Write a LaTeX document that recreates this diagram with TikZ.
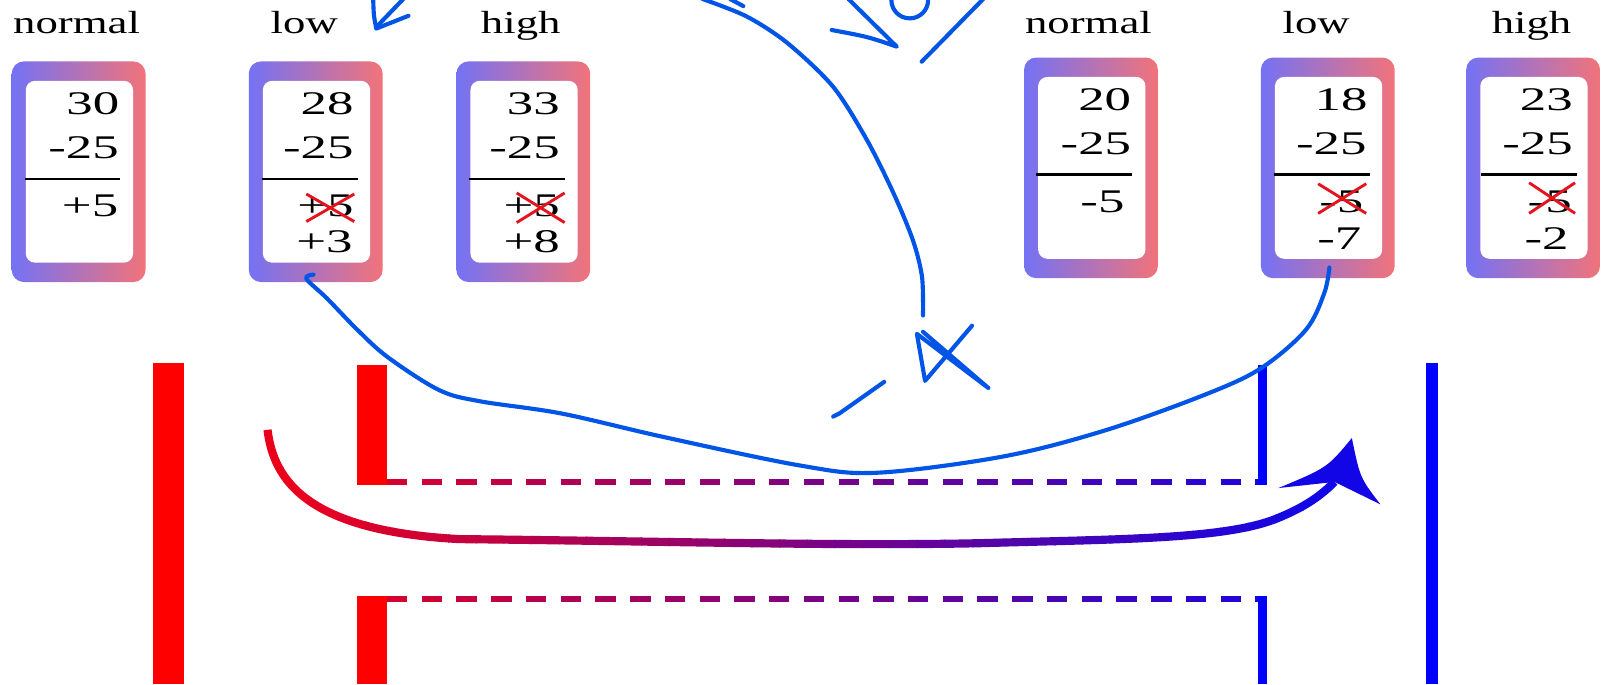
\documentclass[tikz,border=0pt]{standalone}
\usepackage{fontspec}
\setmainfont{Liberation Serif}
\newfontfamily\tagfont{Liberation Serif}[FakeStretch=1.4]
\newfontfamily\numfont{Liberation Serif}[FakeStretch=1.6]

\definecolor{cardblue}{RGB}{116,114,244}
\definecolor{cardred}{RGB}{241,115,122}
\definecolor{flowred}{RGB}{235,0,28}
\definecolor{flowblue}{RGB}{18,6,230}
\definecolor{crossred}{RGB}{228,20,30}
\definecolor{inkblue}{RGB}{0,84,230}

\tikzset{
    card/.style={rectangle, minimum width=1.31cm, minimum height=2.16cm, rounded corners=0.12cm, left color=cardblue, right color=cardred},
    face/.style={rectangle, fill=white, minimum width=1.05cm, minimum height=1.78cm, rounded corners=0.09cm},
    tag/.style={anchor=base, inner sep=0pt, font=\tagfont\fontsize{8.9}{10}\selectfont},
    num/.style={anchor=east, inner sep=0pt, font=\numfont\fontsize{9.2}{10}\selectfont},
    sumline/.style={line width=0.7pt},
    cross/.style={crossred, line width=0.8pt},
    wall/.style={line width=0.065cm, dash pattern=on 0.2cm off 0.14cm},
    flow/.style={line width=0.08cm},
    inkpen/.style={draw=inkblue, line width=1.15pt, line cap=round, line join=round}
}

\begin{document}
\begin{tikzpicture}[x=0.01cm, y=-0.01cm]
    \useasboundingbox (0,0) rectangle (1568,670);
    \fill[white] (0,0) rectangle (1568,670);

    % Cards, left group
    \node[card] (lnormal) at (77,168.2) {};
    \node[face] (lnormalin) at (77.8,168.2) {};
    \node[card] (llow) at (309.2,168.2) {};
    \node[face] (llowin) at (310,168.2) {};
    \node[card] (lhigh) at (512.5,168.2) {};
    \node[face] (lhighin) at (513.3,168.2) {};

    % Cards, right group
    \node[card] (rnormal) at (1068.5,164.4) {};
    \node[face] (rnormalin) at (1069.3,164.4) {};
    \node[card] (rlow) at (1300.4,164.4) {};
    \node[face] (rlowin) at (1301.2,164.4) {};
    \node[card] (rhigh) at (1501.5,164.4) {};
    \node[face] (rhighin) at (1502.3,164.4) {};

    % Labels
    \node[tag] (lnormaltag) at (75,32.7) {normal};
    \node[tag] (llowtag) at (298,32.7) {low};
    \node[tag] (lhightag) at (510,32.7) {high};
    \node[tag] (rnormaltag) at (1066,32.7) {normal};
    \node[tag] (rlowtag) at (1289,32.7) {low};
    \node[tag] (rhightag) at (1500,32.7) {high};

    % Sums, left group
    \node[num] (lnormal1) at (117.5,102) {30};
    \node[num] (lnormal2) at (117,144.5) {-25};
    \draw[sumline] (24.4,175.3) -- (117.5,175.3);
    \node[num] (lnormal3) at (116.5,201.5) {+5};

    \node[num] (llow1) at (347,102) {28};
    \node[num] (llow2) at (347,144.5) {-25};
    \draw[sumline] (256.8,175.3) -- (350.5,175.3);
    \node[num] (llow3) at (347,201.5) {+5};
    \draw[cross] (300,190) -- (347,217) (300,217) -- (347,190);
    \node[num] (llow4) at (346,236.8) {+3};

    \node[num] (lhigh1) at (549,102) {33};
    \node[num] (lhigh2) at (549,144.5) {-25};
    \draw[sumline] (459,175.3) -- (553,175.3);
    \node[num] (lhigh3) at (549,201.5) {+5};
    \draw[cross] (506,189) -- (553,218) (506,218) -- (553,189);
    \node[num] (lhigh4) at (549,236.8) {+8};

    % Sums, right group
    \node[num] (rnormal1) at (1108.5,98) {20};
    \node[num] (rnormal2) at (1108.5,140.4) {-25};
    \draw[sumline] (1014.6,170.7) -- (1108.7,170.7);
    \node[num] (rnormal3) at (1102,197.5) {-5};

    \node[num] (rlow1) at (1340,98) {18};
    \node[num] (rlow2) at (1339,140.4) {-25};
    \draw[sumline] (1247.8,170.7) -- (1341.7,170.7);
    \node[num] (rlow3) at (1336,197.5) {-5};
    \draw[cross] (1291,180) -- (1338,209) (1291,209) -- (1338,180);
    \node[num] (rlow4) at (1334,233.5) {-7};

    \node[num] (rhigh1) at (1541,98) {23};
    \node[num] (rhigh2) at (1541,140.4) {-25};
    \draw[sumline] (1450.6,170.7) -- (1544.4,170.7);
    \node[num] (rhigh3) at (1540,197.5) {-5};
    \draw[cross] (1497.6,179) -- (1542.6,209) (1497.6,209) -- (1542.6,179);
    \node[num] (rhigh4) at (1537,233.5) {-2};

    % Dashed walls and the flow, shaded red to blue slice by slice
    \foreach \i in {0,...,39}{
        \pgfmathtruncatemacro\mix{max(0,min(100,(1290-264-27*\i)/10))}
        \begin{scope}
            \clip (250+27*\i,300) rectangle (278+27*\i,610);
            \draw[wall, flowred!\mix!flowblue] (379,472) -- (1237,472);
            \draw[wall, flowred!\mix!flowblue] (379,586.5) -- (1237,586.5);
            \draw[flow, flowred!\mix!flowblue] (262,421) .. controls (268,470) and (300,520) .. (450,528)
                .. controls (650,530) and (820,535) .. (960,532)
                .. controls (1100,528) and (1200,528) .. (1250,508)
                .. controls (1280,496) and (1295,484) .. (1307,472);
        \end{scope}
    }
    \fill[flowblue] (1324,429) .. controls (1300,458) .. (1252,478) -- (1307,472)
        -- (1352,494) .. controls (1332,468) .. (1324,429) -- cycle;

    % Walls
    \fill[red] (150,356) rectangle (180,670);
    \fill[red] (350,357) rectangle (379,475);
    \fill[red] (350,583.5) rectangle (379,670);
    \fill[blue] (1232,357) rectangle (1241,475);
    \fill[blue] (1232,583.5) rectangle (1241,670);
    \fill[blue] (1397,356) rectangle (1408,670);

    % Pen strokes
    \draw[inkpen] (365.5,-1) .. controls (366,15) .. (368.5,28) -- (400,15.5);
    \draw[inkpen] (395,-1) -- (370,25);
    \draw[inkpen] plot[smooth] coordinates {(688,-1) (731,16) (771,42) (816,85) (849,137) (875,189) (894,235) (903,271) (904,309)};
    \draw[inkpen] (715,-1) -- (728,6);
    \draw[inkpen] (814.6,29.4) .. controls (850,36) .. (878.3,45.7) -- (830.9,-1);
    \draw[inkpen] (891,0) circle [radius=18];
    \draw[inkpen] (902.7,60.4) -- (963,-1);
    \draw[inkpen] (952,319) -- (906,373) .. controls (902,350) .. (898,327) -- (968,380) -- (904,325);
    \draw[inkpen] (866,374) -- (822,405) -- (816,408);
    \draw[inkpen] plot[smooth, tension=0.55] coordinates {(307,269) (300,273) (320,292) (350,323) (380,350) (430,382) (470,393) (550,405) (650,428) (784,456) (859,463) (983,447) (1084,421) (1184,385) (1236,360) (1279,323) (1297,287) (1302,262)};
\end{tikzpicture}
\end{document}
